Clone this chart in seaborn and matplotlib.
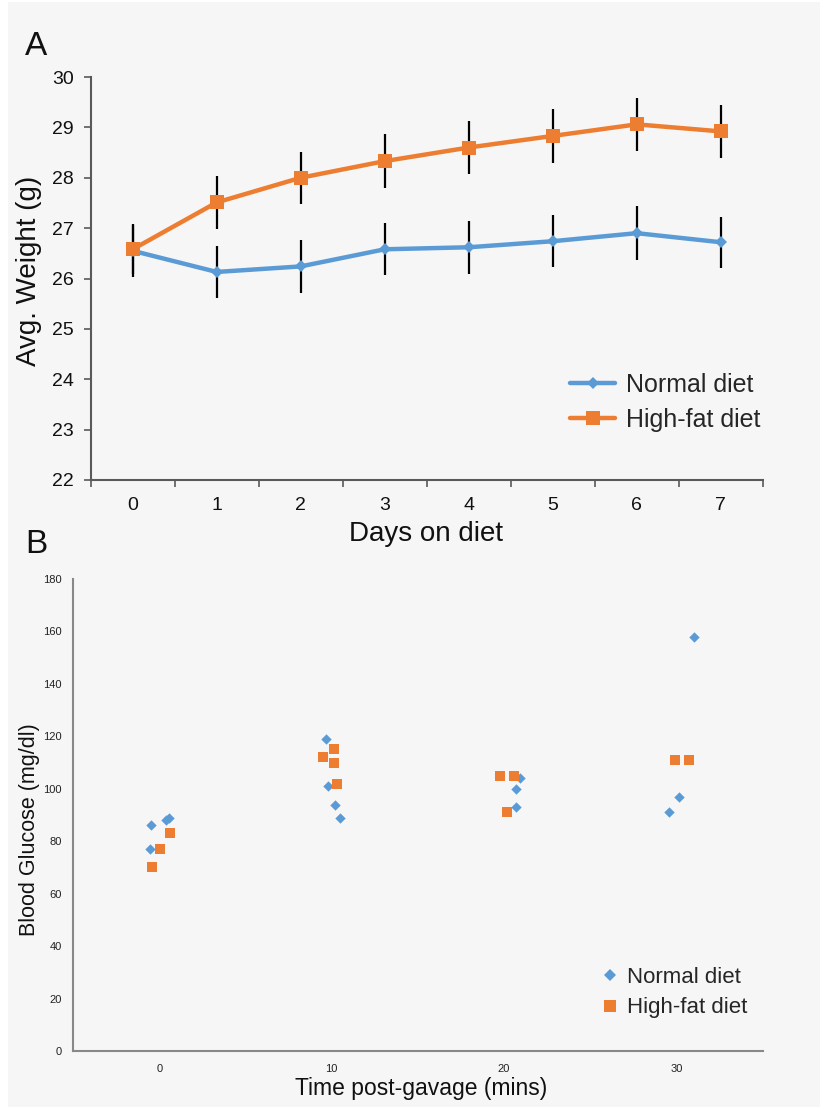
import numpy as np
import pandas as pd
import matplotlib
matplotlib.use("Agg")
import matplotlib.pyplot as plt
from matplotlib.patches import Rectangle
from matplotlib.lines import Line2D
import seaborn as sns

# ---------------- Data ----------------
days = [0, 1, 2, 3, 4, 5, 6, 7]
normal_weight = [26.55, 26.13, 26.24, 26.58, 26.62, 26.74, 26.90, 26.72]
highfat_weight = [26.58, 27.51, 28.00, 28.33, 28.60, 28.83, 29.06, 28.92]
normal_err = [0.52, 0.52, 0.52, 0.52, 0.53, 0.52, 0.53, 0.51]
highfat_err = [0.50, 0.53, 0.52, 0.53, 0.53, 0.53, 0.53, 0.53]

time_ticks = [0, 10, 20, 30]
normal_time = [-0.48, -0.54, 0.42, 0.54, 9.65, 9.78, 10.22, 10.47,
               20.95, 20.70, 20.70, 31.03, 30.17, 29.55]
normal_glucose = [86, 77, 88, 89, 119, 101, 94, 89,
                  104, 100, 93, 158, 97, 91]
highfat_time = [0.62, 0.02, -0.42, 10.13, 9.49, 10.12, 10.29,
                19.77, 20.60, 20.19, 29.94, 30.70]
highfat_glucose = [83, 77, 70, 115, 112, 110, 102,
                   105, 105, 91, 111, 111]

series_names = ["Normal diet", "High-fat diet"]
BLUE = "#5b9bd5"
ORANGE = "#ed7d31"

# ---------------- Style ----------------
sns.set_theme(style="white")
plt.rcParams["font.family"] = ["Liberation Sans", "DejaVu Sans"]

W, H = 822, 1109
fig = plt.figure(figsize=(W / 100, H / 100), dpi=100)
fig.patch.set_facecolor("white")
fig.add_artist(Rectangle((8 / W, 2 / H), (820 - 8) / W, (1107 - 2) / H,
                         transform=fig.transFigure, facecolor="#f6f6f6",
                         edgecolor="none", zorder=-10))

def ax_rect(l, t, r, b):
    return [l / W, 1 - b / H, (r - l) / W, (b - t) / H]

# ---------------- Panel A ----------------
axA = fig.add_axes(ax_rect(90.7, 77, 762.7, 480))
axA.set_facecolor("none")

dfA = pd.DataFrame({
    "day": days * 2,
    "weight": normal_weight + highfat_weight,
    "err": normal_err + highfat_err,
    "diet": [series_names[0]] * len(days) + [series_names[1]] * len(days),
})

for name in series_names:
    sub = dfA[dfA["diet"] == name]
    axA.errorbar(sub["day"], sub["weight"], yerr=sub["err"], fmt="none",
                 ecolor="black", elinewidth=1.6, capsize=0, zorder=2)

sns.lineplot(data=dfA, x="day", y="weight", hue="diet", style="diet",
             palette=[BLUE, ORANGE], markers=["D", "s"], dashes=False,
             linewidth=3.2, markersize=8.5, markeredgewidth=0,
             ax=axA, zorder=3, legend=False)
for line, ms in zip(axA.lines[-2:], [6.5, 10.5]):
    line.set_markersize(ms)

axA.set_xlim(-0.5, 7.5)
axA.set_ylim(22, 30)
axA.set_yticks(np.arange(22, 31, 1))
axA.set_xticks(days)
axA.set_xticks(np.arange(-0.5, 8.0, 1.0), minor=True)
axA.tick_params(axis="x", which="major", length=0, pad=12, labelsize=14,
                labelcolor="#111111")
axA.tick_params(axis="x", which="minor", length=5, width=1.2,
                direction="out", color="#595959", bottom=True)
axA.tick_params(axis="y", length=5, width=1.2, direction="out", left=True,
                color="#595959", pad=7, labelsize=14, labelcolor="#111111")
for s in ["top", "right"]:
    axA.spines[s].set_visible(False)
for s in ["left", "bottom"]:
    axA.spines[s].set_color("#595959")
    axA.spines[s].set_linewidth(1.5)
axA.set_xlabel("Days on diet", fontsize=20, color="#111111")
axA.set_ylabel("Avg. Weight (g)", fontsize=20, color="#111111")
axA.xaxis.set_label_coords(0.499, -0.102)
axA.yaxis.set_label_coords(-0.0725, 0.52)

handlesA = [
    Line2D([], [], color=BLUE, lw=3.2, marker="D", markersize=6.5, markeredgewidth=0),
    Line2D([], [], color=ORANGE, lw=3.2, marker="s", markersize=10.5, markeredgewidth=0),
]
axA.legend(handlesA, series_names, loc="upper left",
           bbox_to_anchor=((560 - 90.7) / 672, (480 - 363) / 403),
           frameon=False, fontsize=18, handlelength=1.8, handletextpad=0.45,
           labelspacing=0.43, borderaxespad=0)

fig.text(25 / W, 1 - 55 / H, "A", fontsize=24, color="#111111", ha="left", va="baseline")

# ---------------- Panel B ----------------
axB = fig.add_axes(ax_rect(73, 579, 762.7, 1051))
axB.set_facecolor("none")

dfB = pd.DataFrame({
    "time": normal_time + highfat_time,
    "glucose": normal_glucose + highfat_glucose,
    "diet": [series_names[0]] * len(normal_time) + [series_names[1]] * len(highfat_time),
})
sns.scatterplot(data=dfB[dfB["diet"] == series_names[0]], x="time", y="glucose",
                color=BLUE, marker="D", s=28, linewidth=0, ax=axB, zorder=3)
sns.scatterplot(data=dfB[dfB["diet"] == series_names[1]], x="time", y="glucose",
                color=ORANGE, marker="s", s=42, linewidth=0, ax=axB, zorder=3)

axB.set_xlim(-5, 35)
axB.set_ylim(0, 180)
axB.set_xticks(time_ticks)
axB.set_yticks(np.arange(0, 181, 20))
axB.tick_params(axis="both", length=0, labelsize=8, labelcolor="#222222")
axB.tick_params(axis="x", pad=9)
axB.tick_params(axis="y", pad=8)
for s in ["top", "right"]:
    axB.spines[s].set_visible(False)
for s in ["left", "bottom"]:
    axB.spines[s].set_color("#888888")
    axB.spines[s].set_linewidth(1.5)
axB.set_xlabel("Time post-gavage (mins)", fontsize=16.5, color="#111111")
axB.set_ylabel("Blood Glucose (mg/dl)", fontsize=15.5, color="#111111")
axB.xaxis.set_label_coords(0.505, -0.055)
axB.yaxis.set_label_coords(-0.048, 0.468)

handlesB = [
    Line2D([], [], color=BLUE, lw=0, marker="D", markersize=6, markeredgewidth=0),
    Line2D([], [], color=ORANGE, lw=0, marker="s", markersize=8, markeredgewidth=0),
]
axB.legend(handlesB, series_names, loc="upper left",
           bbox_to_anchor=((590 - 73) / 689.7, (1051 - 958) / 472),
           frameon=False, fontsize=16, handlelength=1.0, handletextpad=0.25,
           labelspacing=0.43, borderaxespad=0)

fig.text(25 / W, 1 - 553 / H, "B", fontsize=24, color="#111111", ha="left", va="baseline")

fig.savefig("out.png", dpi=100, facecolor=fig.get_facecolor())
